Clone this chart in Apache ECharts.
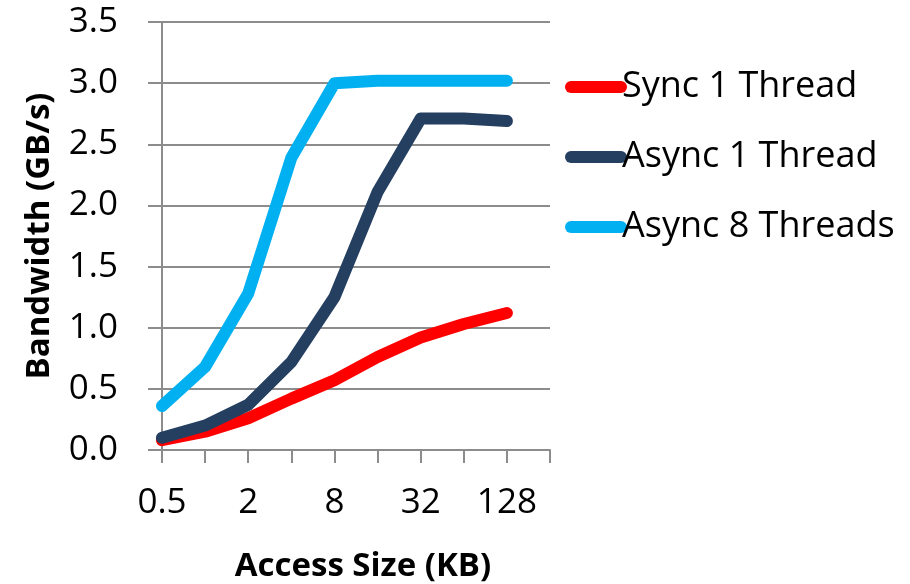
<!DOCTYPE html>
<html>
<head>
<meta charset="utf-8">
<script src="https://cdn.jsdelivr.net/npm/echarts@6/dist/echarts.min.js"></script>
<style>
  html, body { margin: 0; padding: 0; background: #fff; }
  #chart { width: 910px; height: 584px; }
</style>
</head>
<body>
<div id="chart"></div>
<script>
// Access sizes in KB (last slot is empty padding at the end of the axis)
const accessSizes = ['0.5', '1', '2', '4', '8', '16', '32', '64', '128', '256'];

// Bandwidth in GB/s per access size
const sync1Thread   = [0.08, 0.15, 0.26, 0.42, 0.57, 0.76, 0.92, 1.03, 1.12];
const async1Thread  = [0.10, 0.20, 0.37, 0.72, 1.25, 2.11, 2.71, 2.71, 2.69];
const async8Threads = [0.36, 0.68, 1.28, 2.39, 3.00, 3.02, 3.02, 3.02, 3.02];

const seriesNames  = ['Sync 1 Thread', 'Async 1 Thread', 'Async 8 Threads'];
const seriesColors = ['#ff0000', '#243f60', '#00b0f0'];
const seriesData   = [sync1Thread, async1Thread, async8Threads];

const FONT = '"Open Sans", "Liberation Sans", sans-serif';
const GRID_GRAY = '#8c8c8c';

const chart = echarts.init(document.getElementById('chart'), null, { renderer: 'canvas' });

chart.setOption({
  animation: false,
  backgroundColor: '#ffffff',
  grid: { left: 162, right: 360, top: 22, bottom: 134, containLabel: false, outerBoundsMode: 'none' },
  legend: {
    orient: 'vertical',
    left: 560,
    top: 64,
    itemWidth: 62,
    itemHeight: 12,
    itemGap: 34,
    icon: 'path://M6,0 H56 A6,6 0 0 1 56,12 H6 A6,6 0 0 1 6,0 Z',
    textStyle: { fontFamily: FONT, fontSize: 36, color: '#000', padding: [0, 0, 0, -10] },
    data: seriesNames
  },
  xAxis: {
    type: 'category',
    data: accessSizes,
    boundaryGap: false,
    name: 'Access Size (KB)',
    nameLocation: 'middle',
    nameGap: 100,
    nameTextStyle: { fontFamily: FONT, fontSize: 33, fontWeight: 'bold', color: '#000', padding: [0, 0, 0, 14] },
    axisLine: { lineStyle: { color: GRID_GRAY, width: 2 } },
    axisTick: { show: true, interval: 0, length: 13, lineStyle: { color: GRID_GRAY, width: 2 } },
    axisLabel: { interval: 1, margin: 36, fontFamily: FONT, fontSize: 35, color: '#000' },
    splitLine: { show: false }
  },
  yAxis: {
    type: 'value',
    min: 0,
    max: 3.5,
    interval: 0.5,
    name: 'Bandwidth (GB/s)',
    nameLocation: 'middle',
    nameGap: 106,
    nameTextStyle: { fontFamily: FONT, fontSize: 33, fontWeight: 'bold', color: '#000' },
    axisLine: { show: true, lineStyle: { color: GRID_GRAY, width: 2 } },
    axisTick: { show: true, length: 14, lineStyle: { color: GRID_GRAY, width: 2 } },
    axisLabel: {
      margin: 44,
      fontFamily: FONT,
      fontSize: 35,
      color: '#000',
      formatter: v => v.toFixed(1)
    },
    splitLine: { show: true, lineStyle: { color: GRID_GRAY, width: 2 } }
  },
  series: seriesNames.map((name, i) => ({
    name,
    type: 'line',
    data: seriesData[i],
    color: seriesColors[i],
    showSymbol: false,
    symbol: 'none',
    lineStyle: { width: 12, color: seriesColors[i], cap: 'round', join: 'round' },
    z: 3 + i
  }))
});
</script>
</body>
</html>
